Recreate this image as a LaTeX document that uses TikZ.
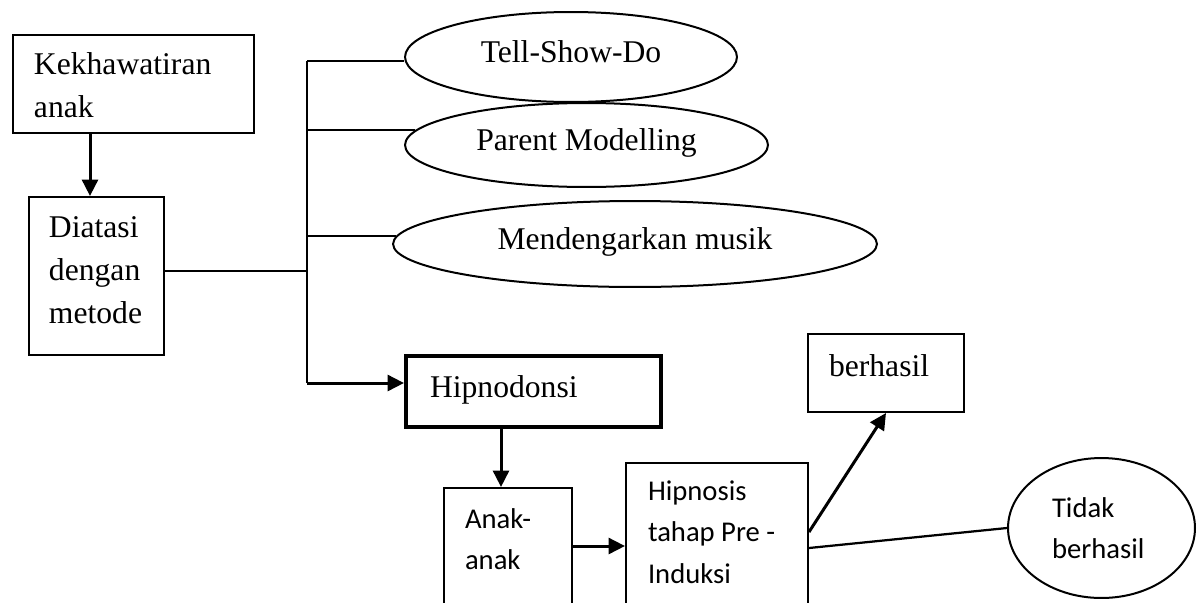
\documentclass[tikz,border=0pt]{standalone}
\usepackage{fontspec}
\setmainfont{Liberation Serif}
\newfontfamily\calibri{Carlito}
\usepackage{tikz}
\usetikzlibrary{shapes.geometric,arrows.meta}

\newcommand{\boxtxt}[3]{\parbox[t][#1][t]{#2}{\raggedright #3}}

\begin{document}
\begin{tikzpicture}[x=0.02cm,y=-0.02cm,
        serif/.style={font=\fontsize{18}{24.5}\selectfont},
        sans/.style={font=\calibri\fontsize{16.3}{23.6}\selectfont},
        box/.style={draw,line width=0.04cm,anchor=north west},
        oval/.style={draw,ellipse,line width=0.04cm,inner sep=0pt,text height=0.5cm,text depth=0.3cm},
        link/.style={line width=0.045cm},
        arr/.style={line width=0.06cm,-{Triangle[length=0.33cm,width=0.32cm]}}]
        \useasboundingbox (0,0) rectangle (1202,602);
        \clip (0,0) rectangle (1202,602);
        % left column
        \node[box,serif,inner xsep=0.42cm,inner ysep=0.35cm] (worry) at (12,34) {\boxtxt{1.26cm}{3.98cm}{Kekhawatiran\\anak}};
        \node[box,serif,inner xsep=0.4cm,inner ysep=0.39cm] (method) at (28,196) {\boxtxt{2.38cm}{1.9cm}{Diatasi\\dengan\\metode}};
        % metode
        \node[oval,serif,minimum width=6.64cm,minimum height=1.8cm] (tsd) at (571,57) {Tell-Show-Do\hspace{0.4cm}};
        \node[oval,serif,minimum width=7.26cm,minimum height=1.68cm] (pm) at (586.5,145) {Parent Modelling};
        \node[oval,serif,minimum width=9.68cm,minimum height=1.72cm] (mm) at (635,244) {Mendengarkan musik\hspace{0.72cm}};
        \node[box,serif,line width=0.08cm,inner xsep=0.48cm,inner ysep=0.39cm] (hypno) at (404,354) {\boxtxt{0.64cm}{4.14cm}{Hipnodonsi}};
        % hipnodonsi
        \node[box,sans,inner xsep=0.42cm,inner ysep=0.41cm] (anak) at (443,487) {\boxtxt{3cm}{1.72cm}{Anak-\\anak}};
        \node[box,sans,inner xsep=0.44cm,inner ysep=0.35cm] (hypnosis) at (625,462) {\boxtxt{3cm}{2.76cm}{Hipnosis\\tahap Pre -\\Induksi}};
        \node[box,serif,inner xsep=0.42cm,inner ysep=0.41cm] (success) at (807,333) {\boxtxt{0.74cm}{2.28cm}{berhasil}};
        \node[draw,ellipse,line width=0.04cm,inner sep=0pt,sans,minimum width=3.74cm,minimum height=2.8cm] (fail) at (1101.5,528) {\parbox{1.98cm}{\raggedright Tidak\\berhasil}};
        \coordinate (spinetop) at (307,61);
        \coordinate (spinebot) at (307,383);
        \draw[arr] (worry.south -| 90,0) -- (method.north -| 90,0);
        \draw[link] (spinetop) -- (spinebot);
        \draw[link] (method.east |- 0,271) -- (spinetop |- 0,271);
        \draw[link] (spinetop) -- (spinetop -| tsd.west);
        \draw[link] (spinetop |- pm.175) -- (pm.175);
        \draw[link] (spinetop |- mm.178) -- (mm.178);
        \draw[arr] (spinebot) -- (spinebot -| hypno.west);
        \draw[arr] (hypno.south -| 501,0) -- (anak.north -| 501,0);
        \draw[arr] (anak.north east |- 0,546) -- (hypnosis.north west |- 0,546);
        \draw[arr] (hypnosis.north east |- 0,532) -- (success.south);
        \draw[link] (hypnosis.north east |- 0,548) -- (fail.west);
\end{tikzpicture}
\end{document}
